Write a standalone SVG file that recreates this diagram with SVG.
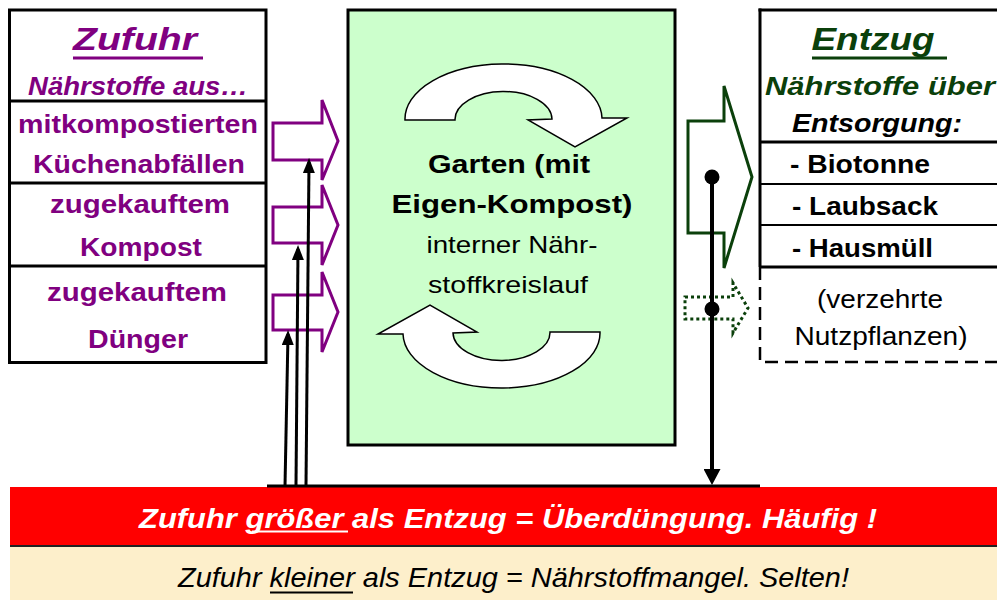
<svg xmlns="http://www.w3.org/2000/svg" width="997" height="600" viewBox="0 0 997 600">
<defs>
<style>
text{font-family:"Liberation Sans",Arial,sans-serif}
.b{font-weight:bold}
.i{font-style:italic}
.pu{fill:#800080}
.gr{fill:#0b400b}
.bk{fill:#000}
.wh{fill:#fff}
.c{text-anchor:middle}
.frame{fill:none;stroke:#000;stroke-width:3}
.sep{stroke:#000;stroke-width:3}
.sep2{stroke:#000;stroke-width:2}
.parrow{fill:#fff;stroke:#800080;stroke-width:3;stroke-linejoin:miter}
.carrow{fill:#fff;stroke:#000;stroke-width:1.5}
.up{stroke:#000;stroke-width:3;fill:none;marker-end:url(#ahUp)}
</style>
<marker id="ahUp" viewBox="0 0 15 12" refX="11" refY="6" markerWidth="15" markerHeight="12" markerUnits="userSpaceOnUse" orient="auto">
<path d="M0,0 L15,6 L0,12 Z" fill="#000"/>
</marker>
<marker id="ahDown" viewBox="0 0 16 17" refX="12" refY="8.5" markerWidth="16" markerHeight="17" markerUnits="userSpaceOnUse" orient="auto">
<path d="M0,0 L16,8.5 L0,17 Z" fill="#000"/>
</marker>
<path id="loopArrow" d="M405,120 A98.5,55 0 0 1 602,118 L627,118 L575,147 L528,120 L552,119 A48.5,28 0 0 0 455,120 Z"/>
</defs>

<g id="zufuhr">
<rect x="9.5" y="10" width="256.5" height="352.5" class="frame"/>
<line x1="9.5" y1="101" x2="266" y2="101" class="sep"/>
<line x1="9.5" y1="183" x2="266" y2="183" class="sep"/>
<line x1="9.5" y1="266" x2="266" y2="266" class="sep"/>
<text x="135" y="50" class="b i pu c" font-size="32" textLength="124" lengthAdjust="spacingAndGlyphs">Zufuhr</text>
<line x1="73" y1="58" x2="203" y2="58" stroke="#800080" stroke-width="3"/>
<text x="138" y="95" class="b i pu c" font-size="26" textLength="220" lengthAdjust="spacingAndGlyphs">Nährstoffe aus…</text>
<text x="138" y="133" class="b pu c" font-size="25" textLength="240" lengthAdjust="spacingAndGlyphs">mitkompostierten</text>
<text x="139" y="173" class="b pu c" font-size="25" textLength="212" lengthAdjust="spacingAndGlyphs">Küchenabfällen</text>
<text x="140" y="213" class="b pu c" font-size="25" textLength="180" lengthAdjust="spacingAndGlyphs">zugekauftem</text>
<text x="141" y="256" class="b pu c" font-size="25" textLength="122" lengthAdjust="spacingAndGlyphs">Kompost</text>
<text x="137" y="301" class="b pu c" font-size="25" textLength="180" lengthAdjust="spacingAndGlyphs">zugekauftem</text>
<text x="138" y="348" class="b pu c" font-size="25" textLength="100" lengthAdjust="spacingAndGlyphs">Dünger</text>
</g>

<g id="garten">
<rect x="348" y="10" width="327" height="435" fill="#ccffcc" stroke="#000" stroke-width="3"/>
<use href="#loopArrow" class="carrow"/>
<use href="#loopArrow" class="carrow" transform="rotate(180 502.5 226)"/>
<text x="509" y="173" class="b bk c" font-size="25" textLength="162" lengthAdjust="spacingAndGlyphs">Garten (mit</text>
<text x="512" y="213" class="b bk c" font-size="25" textLength="241" lengthAdjust="spacingAndGlyphs">Eigen-Kompost)</text>
<text x="512" y="253" class="bk c" font-size="24" textLength="171" lengthAdjust="spacingAndGlyphs">interner Nähr-</text>
<text x="508" y="293" class="bk c" font-size="24" textLength="160" lengthAdjust="spacingAndGlyphs">stoffkreislauf</text>
</g>

<g id="entzug">
<line x1="760" y1="8.5" x2="760" y2="267" class="sep"/>
<line x1="758.5" y1="10" x2="997" y2="10" class="sep"/>
<line x1="760" y1="142" x2="997" y2="142" class="sep"/>
<line x1="760" y1="184" x2="997" y2="184" class="sep2"/>
<line x1="760" y1="225" x2="997" y2="225" class="sep2"/>
<line x1="760" y1="267" x2="997" y2="267" class="sep"/>
<path d="M760,267 L760,362 L997,362" fill="none" stroke="#000" stroke-width="2.5" stroke-dasharray="13 7"/>
<text x="873" y="50" class="b i gr c" font-size="32" textLength="123" lengthAdjust="spacingAndGlyphs">Entzug</text>
<line x1="812" y1="58" x2="947" y2="58" stroke="#0b400b" stroke-width="3"/>
<text x="880" y="95" class="b i gr c" font-size="26" textLength="230" lengthAdjust="spacingAndGlyphs">Nährstoffe über</text>
<text x="877" y="132" class="b i bk c" font-size="26" textLength="170" lengthAdjust="spacingAndGlyphs">Entsorgung:</text>
<text x="790" y="173" class="b bk" font-size="25" textLength="140" lengthAdjust="spacingAndGlyphs">- Biotonne</text>
<text x="792" y="215" class="b bk" font-size="25" textLength="146" lengthAdjust="spacingAndGlyphs">- Laubsack</text>
<text x="792" y="257" class="b bk" font-size="25" textLength="141" lengthAdjust="spacingAndGlyphs">- Hausmüll</text>
<text x="880" y="308" class="bk c" font-size="25" textLength="126" lengthAdjust="spacingAndGlyphs">(verzehrte</text>
<text x="881" y="345" class="bk c" font-size="25" textLength="173" lengthAdjust="spacingAndGlyphs">Nutzpflanzen)</text>
</g>

<g id="bilanz">
<rect x="10" y="487" width="987" height="58" fill="#ff0000"/>
<line x1="10" y1="546" x2="997" y2="546" stroke="#222" stroke-width="2"/>
<rect x="10" y="547" width="987" height="53" fill="#fdefcb"/>
<text x="139" y="528" class="b i wh" font-size="27" textLength="738" lengthAdjust="spacingAndGlyphs">Zufuhr größer als Entzug = Überdüngung. Häufig !</text>
<line x1="252" y1="531.5" x2="348" y2="531.5" stroke="#fff" stroke-width="2"/>
<text x="178" y="587" class="i bk" font-size="28" textLength="671" lengthAdjust="spacingAndGlyphs">Zufuhr kleiner als Entzug = Nährstoffmangel. Selten!</text>
<line x1="270" y1="592.5" x2="353" y2="592.5" stroke="#000" stroke-width="2"/>
</g>

<g id="connectors">
<path class="parrow" d="M273,123 L322,123 L322,100 L338,141 L322,180 L322,160 L273,160 Z"/>
<path class="parrow" d="M273,207 L322,207 L322,185 L338,225 L322,265 L322,243 L273,243 Z"/>
<path class="parrow" d="M273,295 L322,295 L322,272 L338,312 L322,352 L322,330 L273,330 Z"/>
<path d="M688,121 L724,121 L724,86 L752,177 L724,268 L724,233 L688,233 Z" fill="none" stroke="#0b400b" stroke-width="3"/>
<path d="M685,297 L733,297 L733,283 L748,308 L733,333 L733,319 L685,319 Z" fill="none" stroke="#0b400b" stroke-width="3" stroke-dasharray="3 3"/>
<line x1="267" y1="486" x2="760" y2="486" stroke="#000" stroke-width="3"/>
<line x1="306" y1="486" x2="309" y2="162" class="up"/>
<line x1="296" y1="486" x2="298" y2="249" class="up"/>
<line x1="285" y1="486" x2="288" y2="334" class="up"/>
<line x1="712" y1="177" x2="712" y2="481" stroke="#000" stroke-width="4" marker-end="url(#ahDown)"/>
<circle cx="712" cy="177" r="7.5" fill="#000"/>
<circle cx="712" cy="309" r="7.5" fill="#000"/>
</g>
</svg>
